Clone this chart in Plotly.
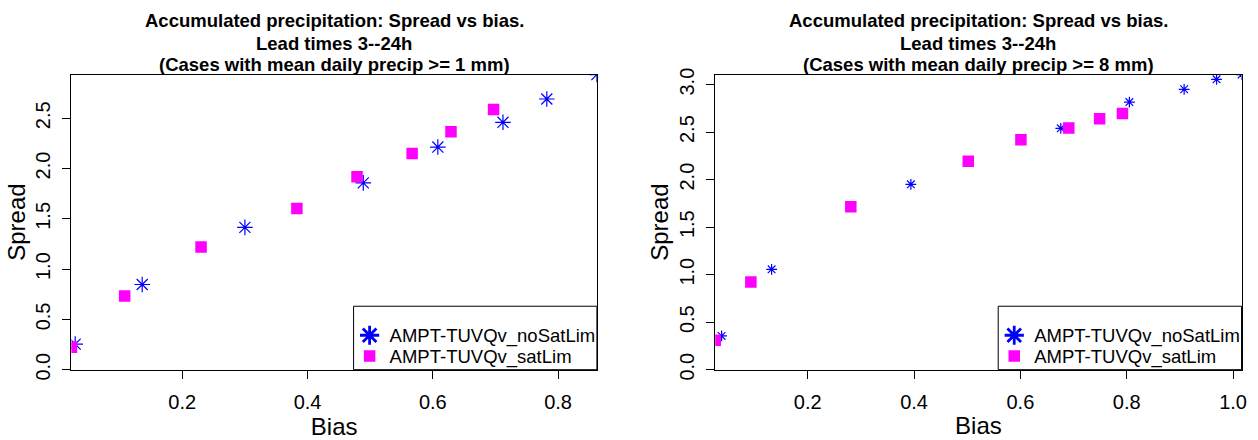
import plotly.graph_objects as go

# Spread vs bias, cases with mean daily precip >= 1 mm
bias_nosat_1 = [0.029, 0.136, 0.300, 0.489, 0.608, 0.712, 0.782, 0.862]
spread_nosat_1 = [0.254, 0.847, 1.415, 1.858, 2.214, 2.460, 2.692, 2.935]
bias_sat_1 = [0.023, 0.108, 0.230, 0.383, 0.479, 0.567, 0.629, 0.697]
spread_sat_1 = [0.223, 0.732, 1.220, 1.602, 1.918, 2.151, 2.367, 2.587]

# Spread vs bias, cases with mean daily precip >= 8 mm
bias_nosat_8 = [0.038, 0.132, 0.394, 0.676, 0.805, 0.908, 0.969, 1.016]
spread_nosat_8 = [0.355, 1.056, 1.951, 2.540, 2.816, 2.951, 3.056, 3.106]
bias_sat_8 = [0.026, 0.093, 0.281, 0.502, 0.601, 0.691, 0.749, 0.792]
spread_sat_8 = [0.311, 0.924, 1.715, 2.193, 2.419, 2.543, 2.641, 2.695]

series_names = ["AMPT-TUVQv_noSatLim", "AMPT-TUVQv_satLim"]
thresholds = ["1", "8"]
x_ticks_1 = [0.2, 0.4, 0.6, 0.8]
x_ticks_8 = [0.2, 0.4, 0.6, 0.8, 1.0]
y_ticks_1 = [0.0, 0.5, 1.0, 1.5, 2.0, 2.5]
y_ticks_8 = [0.0, 0.5, 1.0, 1.5, 2.0, 2.5, 3.0]

FONT = "Liberation Sans, Arial, sans-serif"
BLUE = "#0000FF"
MAGENTA = "#FF00FF"

W, H = 1258, 440
# panel boxes in pixels (left, right), shared top/bottom
panels = [(71.7, 599.3), (718.1, 1246.5)]
top_px, bot_px = 71.3, 378.3
ydom = [1 - bot_px / H, 1 - top_px / H]

fig = go.Figure()

datasets = [
    (bias_nosat_1, spread_nosat_1, bias_sat_1, spread_sat_1, 13),
    (bias_nosat_8, spread_nosat_8, bias_sat_8, spread_sat_8, 9),
]

# one legend per entry so each row can be placed on its own
legend_ids = [["legend", "legend2"], ["legend3", "legend4"]]

for i, (bn, sn, bs, ss, star_size) in enumerate(datasets):
    xa = "x" if i == 0 else "x2"
    ya = "y" if i == 0 else "y2"
    fig.add_trace(go.Scatter(
        x=bn, y=sn, mode="markers", xaxis=xa, yaxis=ya, showlegend=False,
        marker=dict(symbol="asterisk-open", size=star_size,
                    line=dict(color=BLUE, width=1.2), color=BLUE),
    ))
    fig.add_trace(go.Scatter(
        x=bs, y=ss, mode="markers", xaxis=xa, yaxis=ya, showlegend=False,
        marker=dict(symbol="square", size=11.5, color=MAGENTA,
                    line=dict(width=0)),
    ))
    # legend entries
    fig.add_trace(go.Scatter(
        x=[None], y=[None], mode="markers", xaxis=xa, yaxis=ya,
        name=series_names[0], legend=legend_ids[i][0],
        marker=dict(symbol="asterisk-open", size=16,
                    line=dict(color=BLUE, width=2.8), color=BLUE),
    ))
    fig.add_trace(go.Scatter(
        x=[None], y=[None], mode="markers", xaxis=xa, yaxis=ya,
        name=series_names[1], legend=legend_ids[i][1],
        marker=dict(symbol="square", size=11.5, color=MAGENTA,
                    line=dict(width=0)),
    ))

axis_common = dict(
    showgrid=False, zeroline=False, showline=True, mirror=True,
    linecolor="black", linewidth=1, ticks="outside", ticklen=8,
    tickwidth=1, tickcolor="black", tickformat=".1f",
    tickfont=dict(family=FONT, size=20, color="black"),
)

layout = dict(
    width=W, height=H, margin=dict(l=0, r=0, t=0, b=0),
    paper_bgcolor="white", plot_bgcolor="white",
    font=dict(family=FONT, color="black"),
    shapes=[], annotations=[],
)

title_lines = [
    "Accumulated precipitation: Spread vs bias.",
    "Lead times 3--24h",
    "(Cases with mean daily precip >= {} mm)",
]
title_y_px = [15, 38.5, 61]
legend_row_px = [343, 364.5]

for i, (bn, sn, bs, ss, _) in enumerate(datasets):
    suffix = "" if i == 0 else "2"
    xl, xr = panels[i]
    all_b = bn + bs
    all_s = sn + ss
    layout["xaxis" + suffix] = dict(
        axis_common, domain=[xl / W, xr / W], anchor="y" + suffix,
        range=[min(all_b), max(all_b)],
        tickvals=x_ticks_1 if i == 0 else x_ticks_8,
        ticklabelstandoff=6,
        title=dict(text="Bias", font=dict(family=FONT, size=24), standoff=5),
    )
    layout["yaxis" + suffix] = dict(
        axis_common, domain=ydom, anchor="x" + suffix,
        range=[0, max(all_s)],
        tickvals=y_ticks_1 if i == 0 else y_ticks_8,
        tickangle=-90, ticklabelstandoff=4,
        title=dict(text="Spread", font=dict(family=FONT, size=24), standoff=0),
    )
    # three-line bold title
    for line, ypx in zip(title_lines, title_y_px):
        layout["annotations"].append(dict(
            x=(xl + xr) / 2 / W, y=1 - ypx / H, xref="paper", yref="paper",
            xanchor="center", yanchor="middle", showarrow=False,
            text=line.format(thresholds[i]),
            font=dict(family=FONT, size=18.5, weight="bold", color="black"),
        ))
    # legend frame
    box_left = xr - 244.3
    layout["shapes"].append(dict(
        type="rect", xref="paper", yref="paper", layer="above",
        x0=box_left / W, x1=xr / W, y0=ydom[0], y1=1 - 312.3 / H,
        line=dict(color="black", width=1), fillcolor="white",
    ))
    for lid, ypx in zip(legend_ids[i], legend_row_px):
        layout[lid] = dict(
            x=(box_left - 4) / W, xanchor="left",
            y=1 - ypx / H, yanchor="middle",
            bgcolor="rgba(0,0,0,0)", borderwidth=0,
            font=dict(family=FONT, size=18.5, color="black"),
            itemsizing="trace",
        )

fig.update_layout(**layout)
fig.write_html("out.html")
